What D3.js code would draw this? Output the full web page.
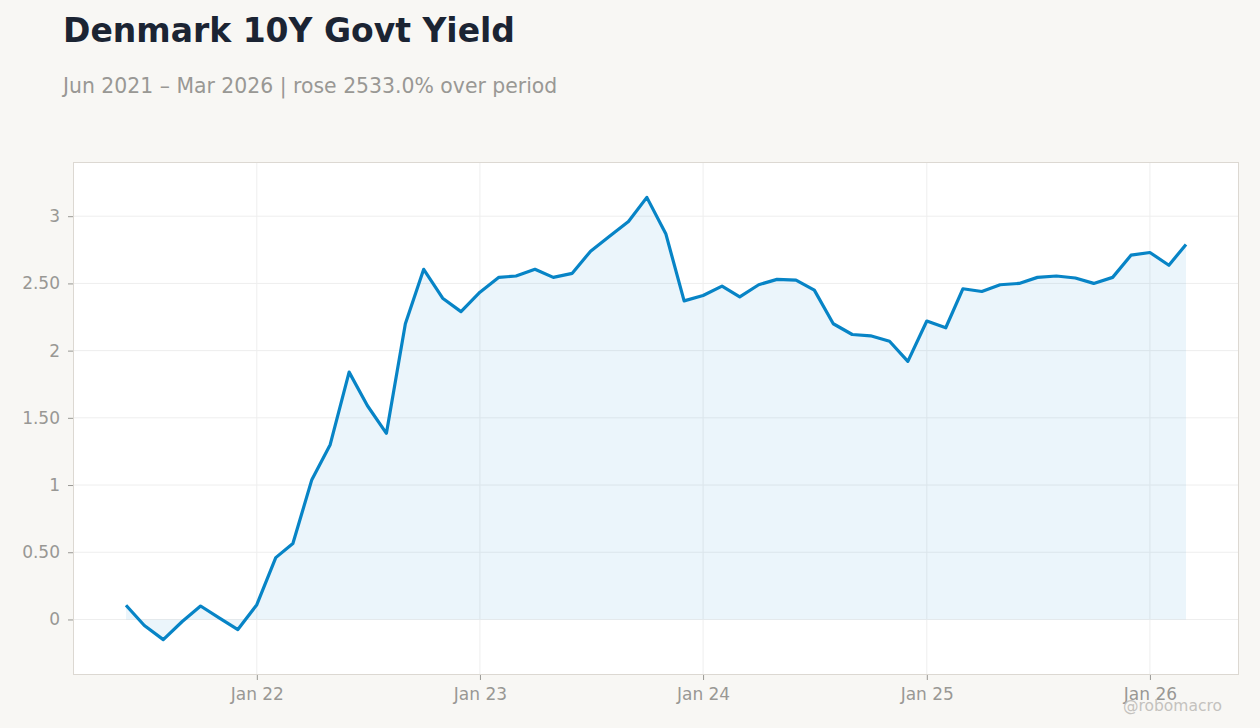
<!DOCTYPE html>
<html>
<head>
<meta charset="utf-8">
<script src="https://cdn.jsdelivr.net/npm/d3@7/dist/d3.min.js"></script>
<style>
  html, body { margin: 0; padding: 0; background: #f8f7f4; }
  svg { display: block; }
</style>
</head>
<body>
<svg id="chart" width="1260" height="728"></svg>
<script>
// ---- data ----
const months = [
  "2021-06","2021-07","2021-08","2021-09","2021-10","2021-11","2021-12",
  "2022-01","2022-02","2022-03","2022-04","2022-05","2022-06","2022-07","2022-08","2022-09","2022-10","2022-11","2022-12",
  "2023-01","2023-02","2023-03","2023-04","2023-05","2023-06","2023-07","2023-08","2023-09","2023-10","2023-11","2023-12",
  "2024-01","2024-02","2024-03","2024-04","2024-05","2024-06","2024-07","2024-08","2024-09","2024-10","2024-11","2024-12",
  "2025-01","2025-02","2025-03","2025-04","2025-05","2025-06","2025-07","2025-08","2025-09","2025-10","2025-11","2025-12",
  "2026-01","2026-02","2026-03"
];
const yields = [
  0.106, -0.045, -0.15, -0.015, 0.10, 0.01, -0.075,
  0.11, 0.46, 0.565, 1.04, 1.30, 1.84, 1.59, 1.385, 2.20, 2.605, 2.39, 2.29,
  2.435, 2.545, 2.555, 2.605, 2.545, 2.575, 2.74, 2.85, 2.96, 3.14, 2.87, 2.37,
  2.41, 2.48, 2.40, 2.49, 2.53, 2.525, 2.45, 2.20, 2.12, 2.11, 2.07, 1.92,
  2.22, 2.17, 2.46, 2.44, 2.49, 2.50, 2.545, 2.555, 2.54, 2.50, 2.545, 2.71,
  2.73, 2.635, 2.79
];
const yTicks = [0, 0.5, 1, 1.5, 2, 2.5, 3];
const xTickDates = ["2022-01","2023-01","2024-01","2025-01","2026-01"];
const titleText = "Denmark 10Y Govt Yield";
const subtitleText = "Jun 2021 \u2013 Mar 2026 | rose 2533.0% over period";
const watermarkText = "@robomacro";

// ---- layout ----
const svg = d3.select("#chart");
const W = 1260, H = 728;
const m = { left: 73, right: 21, top: 162, bottom: 53 };
const pw = W - m.left - m.right, ph = H - m.top - m.bottom;
const parse = d3.timeParse("%Y-%m");
const data = months.map((mo, i) => ({ date: parse(mo), value: yields[i] }));

const xExt = d3.extent(data, d => d.date);
const xSpan = xExt[1] - xExt[0];
const x = d3.scaleTime()
  .domain([new Date(+xExt[0] - xSpan * 0.05), new Date(+xExt[1] + xSpan * 0.05)])
  .range([m.left, m.left + pw]);
const yExt = d3.extent(data, d => d.value);
const ySpan = yExt[1] - yExt[0];
const y = d3.scaleLinear()
  .domain([yExt[0] - ySpan * 0.08, yExt[1] + ySpan * 0.08])
  .range([m.top + ph, m.top]);

const FONT = "DejaVu Sans";
svg.append("rect").attr("width", W).attr("height", H).attr("fill", "#f8f7f4");

// title
svg.append("text").attr("x", 63).attr("y", 42)
  .attr("font-family", FONT).attr("font-weight", "bold")
  .attr("font-size", 33).attr("fill", "#1b2433").text(titleText);
svg.append("text").attr("x", 63).attr("y", 93)
  .attr("font-family", FONT).attr("font-size", 20.4)
  .attr("fill", "#999894").text(subtitleText);

// plot bg
svg.append("rect").attr("x", m.left).attr("y", m.top).attr("width", pw).attr("height", ph)
  .attr("fill", "#ffffff");

// grid
const grid = svg.append("g");
grid.selectAll("line.h").data(yTicks).join("line")
  .attr("x1", m.left).attr("x2", m.left + pw)
  .attr("y1", d => y(d)).attr("y2", d => y(d))
  .attr("stroke", "#eeeeee").attr("stroke-width", 1);
grid.selectAll("line.v").data(xTickDates.map(parse)).join("line")
  .attr("y1", m.top).attr("y2", m.top + ph)
  .attr("x1", d => x(d)).attr("x2", d => x(d))
  .attr("stroke", "#eeeeee").attr("stroke-width", 1);

// area
const area = d3.area().x(d => x(d.date)).y0(y(0)).y1(d => y(d.value));
svg.append("path").datum(data).attr("d", area)
  .attr("fill", "#0284c7").attr("fill-opacity", 0.08);

// line
const line = d3.line().x(d => x(d.date)).y(d => y(d.value));
svg.append("path").datum(data).attr("d", line)
  .attr("fill", "none").attr("stroke", "#0784c6").attr("stroke-width", 3.2)
  .attr("stroke-linejoin", "round");

// frame
svg.append("rect").attr("x", m.left + 0.5).attr("y", m.top + 0.5)
  .attr("width", pw - 1).attr("height", ph - 1)
  .attr("fill", "none").attr("stroke", "#dcd8d2");

// axes
const fmtY = d => Number.isInteger(d) ? String(d) : d.toFixed(2);
const yAxis = svg.append("g").attr("transform", `translate(${m.left},0)`)
  .call(d3.axisLeft(y).tickValues(yTicks).tickFormat(fmtY).tickSize(5).tickPadding(8));
const xAxis = svg.append("g").attr("transform", `translate(0,${m.top + ph})`)
  .call(d3.axisBottom(x).tickValues(xTickDates.map(parse)).tickFormat(d3.timeFormat("Jan %y")).tickSize(5).tickPadding(8));
[yAxis, xAxis].forEach(a => {
  a.select(".domain").remove();
  a.selectAll(".tick line").attr("stroke", "#999894");
  a.selectAll(".tick text").attr("fill", "#999894")
    .attr("font-family", FONT).attr("font-size", 17);
});

// watermark
svg.append("text").attr("x", 1222).attr("y", 711).attr("text-anchor", "end")
  .attr("font-family", FONT).attr("font-size", 15.5)
  .attr("fill", "#c4c2be").text(watermarkText);
</script>
</body>
</html>
